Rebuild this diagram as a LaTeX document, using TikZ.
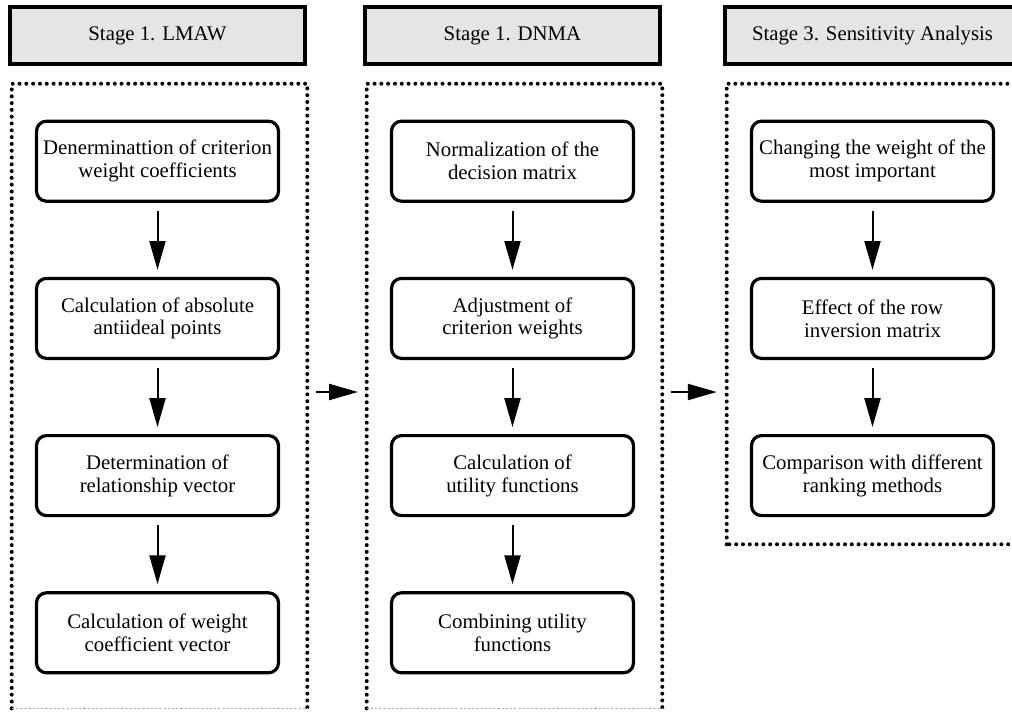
\documentclass[tikz,border=0pt]{standalone}
\usepackage{fontspec}
\setmainfont{Liberation Serif}
\usetikzlibrary{positioning,arrows.meta}

\begin{document}
\begin{tikzpicture}
        \tikzstyle{stage} = [draw, line width=0.08cm, fill=black!10, minimum width=7.375cm, minimum height=1.425cm, inner sep=0pt, font=\fontsize{14.8}{16.3}\selectfont]
        \tikzstyle{task} = [draw, line width=0.08cm, rounded corners=0.25cm, minimum width=6.05cm, minimum height=2cm, align=center, inner sep=2pt, font=\fontsize{14.8}{16.3}\selectfont]
        \tikzstyle{frame} = [minimum width=7.375cm, inner sep=0pt]
        \tikzstyle{dots} = [line width=0.1cm, line cap=round, dash pattern=on 0pt off 0.17cm]
        \tikzstyle{arr} = [line width=0.05cm, -{Triangle[length=0.72cm, width=0.4cm]}]

        % fixes the size of the page
        \clip (0,0) rectangle (25.3,-17.825);

        % stage headers
        \node[stage] (lmaw) at (3.9375,-0.8875) {Stage 1. LMAW};
        \node[stage] (dnma) at (12.8125,-0.8875) {Stage 1. DNMA};
        \node[stage] (sens) at (21.8125,-0.8875) {Stage 3. Sensitivity Analysis};

        % dotted frames
        \node[frame, minimum height=15.6cm] (f1) at (3.9875,-9.9) {};
        \node[frame, minimum height=15.6cm] (f2) at (12.8625,-9.9) {};
        \node[frame, minimum height=11.5cm] (f3) at (21.8625,-7.85) {};

        \draw[dots] (f1.south west) -- (f1.north west) -- (f1.north east) -- (f1.south east);
        \draw[dots] (f2.south west) -- (f2.north west) -- (f2.north east) -- (f2.south east);
        \draw[dots] (f3.south west) rectangle (f3.north east);
        \draw[gray!70, line width=0.5pt, dash pattern=on 1.5pt off 1.5pt] (f1.south west) -- (f1.south east);
        \draw[gray!70, line width=0.5pt, dash pattern=on 1.5pt off 1.5pt] (f2.south west) -- (f2.south east);

        % LMAW steps
        \node[task, below=1.35cm of lmaw] (l1) {Denerminattion of criterion\\weight coefficients};
        \node[task, below=1.85cm of l1] (l2) {Calculation of absolute\\antiideal points};
        \node[task, below=1.85cm of l2] (l3) {Determination of\\relationship vector};
        \node[task, below=1.85cm of l3] (l4) {Calculation of weight\\coefficient vector};

        % DNMA steps
        \node[task, below=1.35cm of dnma] (d1) {Normalization of the\\decision matrix};
        \node[task, below=1.85cm of d1] (d2) {Adjustment of\\criterion weights};
        \node[task, below=1.85cm of d2] (d3) {Calculation of\\utility functions};
        \node[task, below=1.85cm of d3] (d4) {Combining utility\\functions};

        % sensitivity analysis steps
        \node[task, below=1.35cm of sens] (s1) {Changing the weight of the\\most important};
        \node[task, below=1.85cm of s1] (s2) {Effect of the row\\inversion matrix};
        \node[task, below=1.85cm of s2] (s3) {Comparison with different\\ranking methods};

        \foreach \a/\b in {l1/l2,l2/l3,l3/l4,d1/d2,d2/d3,d3/d4,s1/s2,s2/s3}
            \draw[arr, shorten <=0.2cm, shorten >=0.175cm] (\a) -- (\b);

        % from stage to stage
        \draw[arr, shorten <=0.22cm, shorten >=0.22cm] ([yshift=0.1cm]f1.east) -- ([yshift=0.1cm]f1.east -| f2.west);
        \draw[arr, shorten <=0.22cm, shorten >=0.25cm] ([yshift=0.1cm]f2.east) -- ([yshift=0.1cm]f2.east -| f3.west);

\end{tikzpicture}
\end{document}
